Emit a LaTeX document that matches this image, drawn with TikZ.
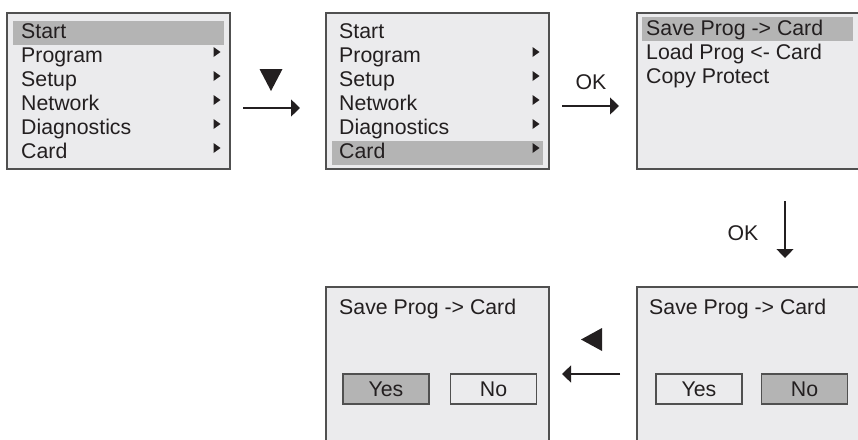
\documentclass[tikz,border=0pt]{standalone}
\usepackage{fontspec}
\setmainfont{Liberation Sans}
\usetikzlibrary{arrows.meta}
\definecolor{scr}{RGB}{235,235,237}
\definecolor{hl}{RGB}{180,180,180}
\definecolor{frame}{RGB}{80,80,80}
\definecolor{ink}{RGB}{35,31,32}
\newcommand{\menufont}{\fontsize{21.3pt}{24pt}\selectfont}
\begin{document}
\begin{tikzpicture}[x=1pt,y=-1pt,
  screen/.style={draw=frame, line width=1.4pt, fill=scr, rectangle, anchor=north west,
    minimum width=223pt, minimum height=156pt, inner sep=0pt, outer sep=0pt},
  hlbar/.style={fill=hl, rectangle, anchor=north west, inner sep=0pt, outer sep=0pt,
    minimum width=211pt, minimum height=23.5pt},
  item/.style={anchor=base west, inner sep=0pt, text=ink, font=\menufont},
  button/.style={draw=frame, line width=1.4pt, rectangle, minimum width=86pt,
    minimum height=30pt, inner sep=0pt, text=ink, font=\menufont},
  flow/.style={draw=ink, line width=1.3pt, -{Triangle[length=9pt,width=17pt]}},
  lbl/.style={text=ink, font=\menufont, inner sep=0pt},
  marrow/.pic={\fill[ink] (-3.5,-5) -- (3.5,0) -- (-3.5,5) -- cycle;}
]
\useasboundingbox (0,0) rectangle (858,439);
\clip (0,0) rectangle (858,439);

% ---------- screen 1 ----------
\node[screen] (s1) at (7,13) {};
\node[hlbar] (h1) at (13,21) {};
\node[item] (s1a) at (21,38) {Start};
\node[item] (s1b) at (21,62) {Program};
\node[item] (s1c) at (21,86) {Setup};
\node[item] (s1d) at (21,110) {Network};
\node[item] (s1e) at (21,134) {Diagnostics};
\node[item] (s1f) at (21,158) {Card};
\foreach \yy in {52,76,100,124,148} \pic at (217,\yy) {marrow};

% ---------- screen 2 ----------
\node[screen] (s2) at (326,13) {};
\node[hlbar] (h2) at (332,141) {};
\node[item] (s2a) at (339,38) {Start};
\node[item] (s2b) at (339,62) {Program};
\node[item] (s2c) at (339,86) {Setup};
\node[item] (s2d) at (339,110) {Network};
\node[item] (s2e) at (339,134) {Diagnostics};
\node[item] (s2f) at (339,158) {Card};
\foreach \yy in {52,76,100,124,148} \pic at (536,\yy) {marrow};

% ---------- screen 3 ----------
\node[screen] (s3) at (637,13) {};
\node[hlbar] (h3) at (642,17) {};
\node[item] (s3a) at (646,35) {Save Prog -> Card};
\node[item] (s3b) at (646,59) {Load Prog <- Card};
\node[item] (s3c) at (646,83) {Copy Protect};

% ---------- screen 5 (right bottom) ----------
\node[screen] (s5) at (637,287) {};
\node[item] (s5a) at (649,314) {Save Prog -> Card};
\node[button, fill=scr] (s5y) at (699,389) {Yes};
\node[button, fill=hl] (s5n) at (804.5,389) {No};

% ---------- screen 4 (left bottom) ----------
\node[screen] (s4) at (326,287) {};
\node[item] (s4a) at (339,314) {Save Prog -> Card};
\node[button, fill=hl] (s4y) at (386,389) {Yes};
\node[button, fill=scr] (s4n) at (493.5,389) {No};

% ---------- arrows ----------
\coordinate (a1s) at (243,108);
\coordinate (a1e) at (300,108);
\draw[flow] (a1s) -- (a1e);
\fill[ink] (259.5,69) -- (282.5,69) -- (271,91) -- cycle;

\coordinate (a2s) at (562,106);
\coordinate (a2e) at (619,106);
\draw[flow] (a2s) -- (a2e);
\node[lbl] (ok1) at (591,82) {OK};

\coordinate (a3s) at (785,201);
\coordinate (a3e) at (785,258);
\draw[flow] (a3s) -- (a3e);
\node[lbl] (ok2) at (743,233) {OK};

\coordinate (a4s) at (620,374);
\coordinate (a4e) at (562,374);
\draw[flow] (a4s) -- (a4e);
\fill[ink] (602,328) -- (602,351) -- (581,339.5) -- cycle;
\end{tikzpicture}
\end{document}
